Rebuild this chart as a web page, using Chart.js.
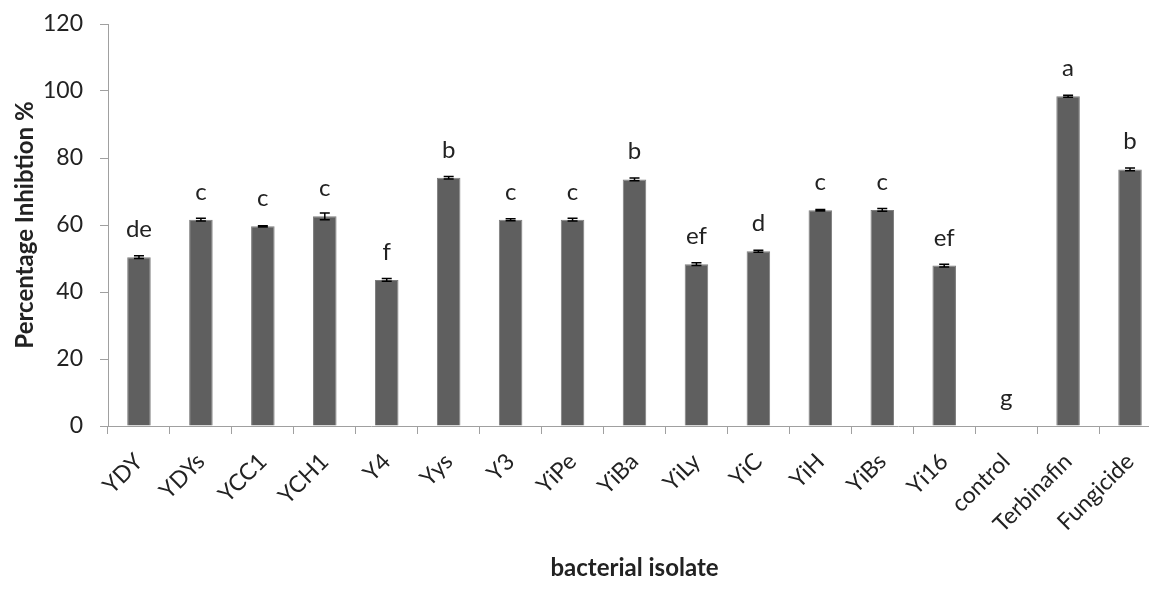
<!DOCTYPE html>
<html><head><meta charset="utf-8">
<script src="https://cdn.jsdelivr.net/npm/chart.js@4"></script>
<style>
html,body{margin:0;padding:0;overflow:hidden;background:#fff;width:1149px;height:601px}
#wrap{position:relative;width:1164px;height:601px}
canvas{display:block}
</style></head>
<body><div id="wrap"><canvas id="c" width="1164" height="601"></canvas></div>
<script>
const categories = ['YDY','YDYs','YCC1','YCH1','Y4','Yys','Y3','YiPe','YiBa','YiLy','YiC','YiH','YiBs','Yi16','control','Terbinafin','Fungicide'];
const inhibition = [50.4, 61.6, 59.6, 62.6, 43.6, 74.1, 61.6, 61.6, 73.6, 48.3, 52.2, 64.4, 64.5, 47.9, 0, 98.4, 76.6];
const errors = [0.4, 0.4, 0.2, 1.0, 0.4, 0.4, 0.3, 0.4, 0.4, 0.4, 0.3, 0.2, 0.4, 0.4, 0, 0.3, 0.4];
const letters = ['de','c','c','c','f','b','c','c','b','ef','d','c','c','ef','g','a','b'];
const yTickValues = [0, 20, 40, 60, 80, 100, 120];

const FONT = 'Lato, "Open Sans", sans-serif';
const TEXT = '#222222';
const AXIS = '#a0a0a0';

const letterPlugin = {
  id: 'letters',
  afterDatasetsDraw(chart) {
    const ctx = chart.ctx;
    const meta = chart.getDatasetMeta(0);
    const ys = chart.scales.y;
    ctx.save();
    meta.data.forEach((bar, i) => {
      const v = inhibition[i], e = errors[i];
      const x = bar.x;
      if (e > 0) {
        const yt = ys.getPixelForValue(v + e);
        const yb = ys.getPixelForValue(v - e);
        ctx.strokeStyle = '#000';
        ctx.lineWidth = 1.5;
        ctx.beginPath();
        ctx.moveTo(x, yt); ctx.lineTo(x, yb);
        ctx.moveTo(x - 5, yt); ctx.lineTo(x + 5, yt);
        ctx.moveTo(x - 5, yb); ctx.lineTo(x + 5, yb);
        ctx.stroke();
      }
      ctx.fillStyle = TEXT;
      ctx.font = '24px ' + FONT;
      ctx.textAlign = 'center';
      ctx.textBaseline = 'alphabetic';
      ctx.fillText(letters[i], x, ys.getPixelForValue(v) - 20);
    });
    ctx.restore();
  }
};

new Chart(document.getElementById('c'), {
  type: 'bar',
  data: {
    labels: categories,
    datasets: [{
      data: inhibition,
      backgroundColor: '#5f5f5f',
      borderColor: '#7d7d7d',
      borderWidth: 1,
      categoryPercentage: 1,
      barPercentage: 0.38
    }]
  },
  options: {
    responsive: false,
    animation: false,
    devicePixelRatio: 1,
    layout: { padding: { top: 24, right: 3, left: 0, bottom: 0 } },
    plugins: { legend: { display: false }, tooltip: { enabled: false } },
    scales: {
      x: {
        offset: true,
        grid: { display: true, drawOnChartArea: false, drawTicks: true, tickLength: 8, color: AXIS, offset: true },
        border: { color: AXIS, width: 1 },
        ticks: { maxRotation: 45, minRotation: 45, autoSkip: false, padding: 14, color: TEXT, font: { family: FONT, size: 23 } },
        title: { display: true, text: 'bacterial isolate', color: TEXT, font: { family: FONT, size: 24, weight: 'bold' }, padding: { top: 0, bottom: 18 } },
        afterFit(s) { s.height = 175; }
      },
      y: {
        min: 0, max: 120,
        afterBuildTicks(s) { s.ticks = yTickValues.map(v => ({ value: v })); },
        grid: { display: true, drawOnChartArea: false, drawTicks: true, tickLength: 8, color: AXIS },
        border: { color: AXIS, width: 1 },
        ticks: { padding: 17, color: TEXT, font: { family: FONT, size: 23 } },
        title: { display: true, text: 'Percentage Inhibtion %', color: TEXT, font: { family: FONT, size: 24, weight: 'bold' }, padding: { top: 11, bottom: 0 } },
        afterFit(s) { s.width = 108; s.paddingTop = 0; s.paddingBottom = 0; }
      }
    }
  },
  plugins: [letterPlugin]
});
</script>
</body></html>
